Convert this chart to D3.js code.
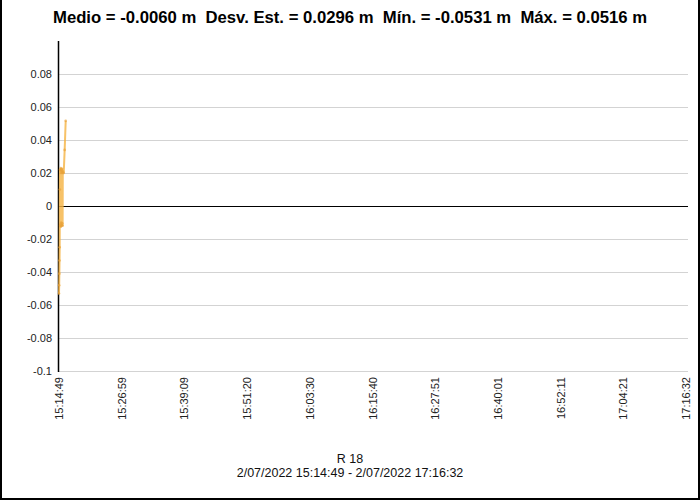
<!DOCTYPE html>
<html><head><meta charset="utf-8">
<script src="https://cdn.jsdelivr.net/npm/d3@7"></script>
<style>body{margin:0;background:#fff}svg{display:block;font-family:"Liberation Sans",Arial,sans-serif}</style>
</head><body>
<script>
// Data (seconds after 15:14:49, value in m)
const seriesSeconds = [0, 2, 4, 6, 8, 10, 12, 14, 16, 18, 20, 22, 24, 26, 28, 30, 32, 34, 36, 38, 40, 42, 44, 46, 55, 66, 78];
const seriesValues = [-0.0531, -0.0480, -0.0410, -0.0330, -0.0250, 0.0100, 0.0220, -0.0120, 0.0215, -0.0110, 0.0230, -0.0125, 0.0200, -0.0100, 0.0220, -0.0120, 0.0210, -0.0115, 0.0225, -0.0105, 0.0205, -0.0120, 0.0200, 0.0210, 0.0200, 0.0340, 0.0516];
const yTicks = [-0.1, -0.08, -0.06, -0.04, -0.02, 0, 0.02, 0.04, 0.06, 0.08];
const xTickLabels = ["15:14:49","15:26:59","15:39:09","15:51:20","16:03:30","16:15:40","16:27:51","16:40:01","16:52:11","17:04:21","17:16:32"];
const titleText = "Medio = -0.0060 m  Desv. Est. = 0.0296 m  Mín. = -0.0531 m  Máx. = 0.0516 m";
const seriesName = "R 18";
const rangeText = "2/07/2022 15:14:49 - 2/07/2022 17:16:32";
const startTime = new Date(2022, 6, 2, 15, 14, 49);
const endTime = new Date(2022, 6, 2, 17, 16, 32);

const W = 700, H = 500;
const svg = d3.select("body").append("svg").attr("width", W).attr("height", H);
svg.append("rect").attr("width", W).attr("height", H).attr("fill", "#fff");

const pLeft = 59, pRight = 686, pTop = 41, pBottom = 371;
const x = d3.scaleTime().domain([startTime, endTime]).range([pLeft, pRight]);
const y = d3.scaleLinear().domain([-0.1, 0.1]).range([pBottom, pTop]);

// gridlines
svg.append("g").selectAll("line").data(yTicks).join("line")
  .attr("x1", pLeft).attr("x2", 688)
  .attr("y1", d => Math.round(y(d)) + 0.5).attr("y2", d => Math.round(y(d)) + 0.5)
  .attr("stroke", d => d === 0 ? "#000" : "#d3d3d3").attr("stroke-width", 1);

// y axis labels
svg.append("g").selectAll("text").data(yTicks).join("text")
  .attr("x", 52).attr("y", d => y(d) + 4)
  .attr("text-anchor", "end").attr("font-size", 11).attr("fill", "#222")
  .text(d => String(+d.toFixed(2)));

// y axis line
svg.append("line").attr("x1", pLeft - 0.5).attr("x2", pLeft - 0.5).attr("y1", pTop).attr("y2", pBottom + 1)
  .attr("stroke", "#000").attr("stroke-width", 1.5);

// x tick labels
const tickTimes = xTickLabels.map((_, i) => new Date(+startTime + i * (endTime - startTime) / (xTickLabels.length - 1)));
svg.append("g").selectAll("text").data(tickTimes).join("text")
  .attr("transform", (d) => `translate(${x(d) + 4},377) rotate(-90)`)
  .attr("text-anchor", "end").attr("font-size", 11).attr("fill", "#222")
  .text((d, i) => xTickLabels[i]);

// series
const pts = seriesSeconds.map((s, i) => ({t: new Date(+startTime + s * 1000), v: seriesValues[i]}));
const line = d3.line().x(d => x(d.t)).y(d => y(d.v));
svg.append("path").datum(pts).attr("d", line).attr("fill", "none")
  .attr("stroke", "#f5b342").attr("stroke-opacity", 0.8).attr("stroke-width", 2);
svg.append("g").selectAll("circle").data(pts).join("circle")
  .attr("cx", d => x(d.t)).attr("cy", d => y(d.v)).attr("r", 1.3)
  .attr("fill", "#e8a33a").attr("opacity", 0.7);

// title
svg.append("text").attr("x", 350).attr("y", 23).attr("text-anchor", "middle")
  .style("white-space", "pre")
  .attr("font-size", 17).attr("font-weight", "bold").attr("fill", "#000")
  .attr("textLength", 594).attr("lengthAdjust", "spacingAndGlyphs")
  .text(titleText);

// bottom labels
svg.append("text").attr("x", 350).attr("y", 463).attr("text-anchor", "middle")
  .attr("font-size", 12.5).attr("fill", "#111").text(seriesName);
svg.append("text").attr("x", 350).attr("y", 477).attr("text-anchor", "middle")
  .attr("font-size", 12.5).attr("fill", "#111").text(rangeText);

// frame
svg.append("rect").attr("x", 0).attr("y", 0).attr("width", 2).attr("height", H).attr("fill", "#000");
svg.append("rect").attr("x", 698).attr("y", 0).attr("width", 2).attr("height", H).attr("fill", "#000");
svg.append("rect").attr("x", 0).attr("y", 498).attr("width", W).attr("height", 2).attr("fill", "#000");
</script>
</body></html>
